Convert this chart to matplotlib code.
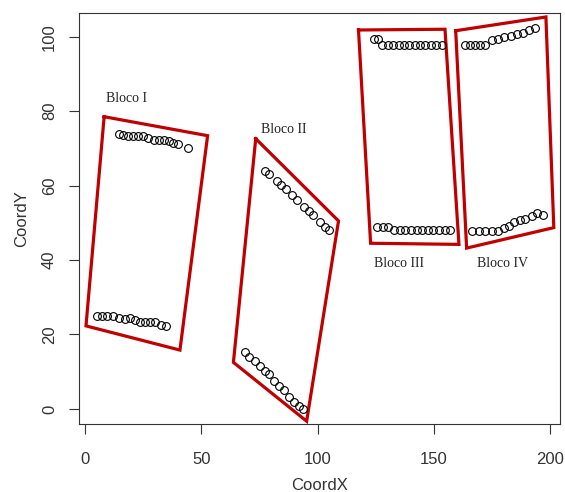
import matplotlib
matplotlib.use("Agg")
import matplotlib.pyplot as plt
import numpy as np

# Bloco I
b1_top_x = [14.4, 16.1, 18.4, 20.4, 22.6, 24.7, 26.9, 29.5, 31.7, 33.8, 36.0, 37.9, 40.0, 44.3]
b1_top_y = [73.8, 73.5, 73.2, 73.2, 73.2, 73.2, 72.9, 72.3, 72.3, 72.3, 72.0, 71.4, 71.1, 70.0]
b1_bot_x = [5.1, 7.2, 9.4, 12.2, 14.8, 17.0, 19.4, 21.6, 23.8, 25.9, 28.1, 30.2, 32.8, 35.0]
b1_bot_y = [25.0, 25.0, 25.0, 25.0, 24.3, 24.1, 24.3, 23.9, 23.4, 23.4, 23.4, 23.4, 22.5, 22.3]
# Bloco II
b2_top_x = [77.5, 79.2, 82.5, 84.4, 86.4, 89.0, 91.1, 94.0, 96.2, 98.2, 101.1, 103.1, 105.1]
b2_top_y = [63.8, 63.0, 61.1, 60.2, 59.1, 57.4, 56.2, 54.3, 53.1, 52.2, 50.1, 48.9, 48.1]
b2_bot_x = [68.8, 70.5, 73.1, 75.3, 77.5, 79.2, 81.3, 83.5, 85.7, 87.8, 89.7, 91.9, 93.6]
b2_bot_y = [15.2, 14.0, 13.0, 11.5, 10.3, 9.4, 7.4, 6.2, 5.0, 3.2, 1.9, 0.8, 0.0]
# Bloco III
b3_top_x = [124.1, 126.0, 127.9, 130.3, 132.6, 134.9, 137.2, 139.5, 141.8, 144.1, 146.4, 148.7, 151.0, 153.3]
b3_top_y = [99.4, 99.4, 97.8, 97.8, 97.8, 97.8, 97.8, 97.8, 97.8, 97.8, 97.8, 97.8, 97.8, 97.8]
b3_bot_x = [125.7, 128.1, 130.5, 133.0, 135.4, 137.8, 140.2, 142.6, 145.0, 147.4, 149.8, 152.3, 154.7, 157.1]
b3_bot_y = [48.9, 48.9, 48.9, 48.0, 48.0, 48.0, 48.0, 48.0, 48.0, 48.0, 48.0, 48.0, 48.0, 48.0]
# Bloco IV
b4_top_x = [163.4, 165.6, 167.8, 170.0, 172.2, 175.0, 177.6, 180.3, 183.0, 185.7, 188.3, 190.9, 193.5]
b4_top_y = [97.8, 97.8, 97.8, 97.8, 97.8, 99.1, 99.5, 100.0, 100.2, 100.7, 101.1, 101.8, 102.2]
b4_bot_x = [166.6, 169.4, 172.2, 175.0, 177.8, 180.0, 182.2, 184.3, 186.9, 189.3, 192.2, 194.4, 196.8]
b4_bot_y = [47.9, 47.9, 47.9, 47.9, 47.9, 48.5, 49.2, 50.3, 50.7, 51.1, 51.9, 52.5, 52.2]

# Block outlines (polygon vertices)
poly1_x = [8.2, 52.7, 40.8, 0.4]
poly1_y = [78.5, 73.4, 15.8, 22.3]
poly2_x = [73.4, 109.0, 95.3, 63.8]
poly2_y = [72.6, 50.5, -3.3, 12.5]
poly3_x = [117.6, 154.8, 160.8, 122.8]
poly3_y = [101.8, 102.0, 44.2, 44.5]
poly4_x = [159.4, 198.2, 201.6, 164.1]
poly4_y = [101.6, 105.3, 48.7, 43.2]

labels = ["Bloco I", "Bloco II", "Bloco III", "Bloco IV"]
label_x = [17.7, 85.5, 135.2, 179.7]
label_y = [83.3, 75.0, 39.0, 39.0]

plt.rcParams['font.family'] = ['Liberation Sans', 'DejaVu Sans']

fig = plt.figure(figsize=(5.65, 4.92), dpi=100)
ax = fig.add_axes([0.140, 0.138, 0.852, 0.835])

all_x = np.concatenate([b1_top_x, b1_bot_x, b2_top_x, b2_bot_x, b3_top_x, b3_bot_x, b4_top_x, b4_bot_x])
all_y = np.concatenate([b1_top_y, b1_bot_y, b2_top_y, b2_bot_y, b3_top_y, b3_bot_y, b4_top_y, b4_bot_y])
ax.plot(all_x, all_y, linestyle='none', marker='o', markersize=5.6,
        markerfacecolor='none', markeredgecolor='black', markeredgewidth=0.8, zorder=3)

red = '#C00000'
for px, py in [(poly1_x, poly1_y), (poly2_x, poly2_y), (poly3_x, poly3_y), (poly4_x, poly4_y)]:
    ax.plot(px + [px[0]], py + [py[0]], color=red, linewidth=2.3, solid_joinstyle='miter', zorder=2)

for t, lx, ly in zip(labels, label_x, label_y):
    ax.text(lx, ly, t, family=['Liberation Serif', 'DejaVu Serif'], fontsize=10,
            ha='center', va='center', color='#222222')

rx = all_x.max() - all_x.min()
ry = all_y.max() - all_y.min()
ax.set_xlim(all_x.min() - 0.04 * rx, all_x.max() + 0.04 * rx)
ax.set_ylim(all_y.min() - 0.04 * ry, all_y.max() + 0.04 * ry)

ax.set_xticks([0, 50, 100, 150, 200])
ax.set_yticks([0, 20, 40, 60, 80, 100])
ax.tick_params(direction='out', length=7, width=0.8, labelsize=12, colors='#333333')
ax.tick_params(axis='x', pad=13)
ax.tick_params(axis='y', pad=9)
for lab in ax.get_yticklabels():
    lab.set_rotation(90)
    lab.set_va('center')
for s in ax.spines.values():
    s.set_color('#333333')
    s.set_linewidth(0.8)

ax.set_xlabel('CoordX', fontsize=12, color='#333333', labelpad=8)
ax.set_ylabel('CoordY', fontsize=12, color='#333333', labelpad=9)

fig.savefig('out.png', dpi=100)
